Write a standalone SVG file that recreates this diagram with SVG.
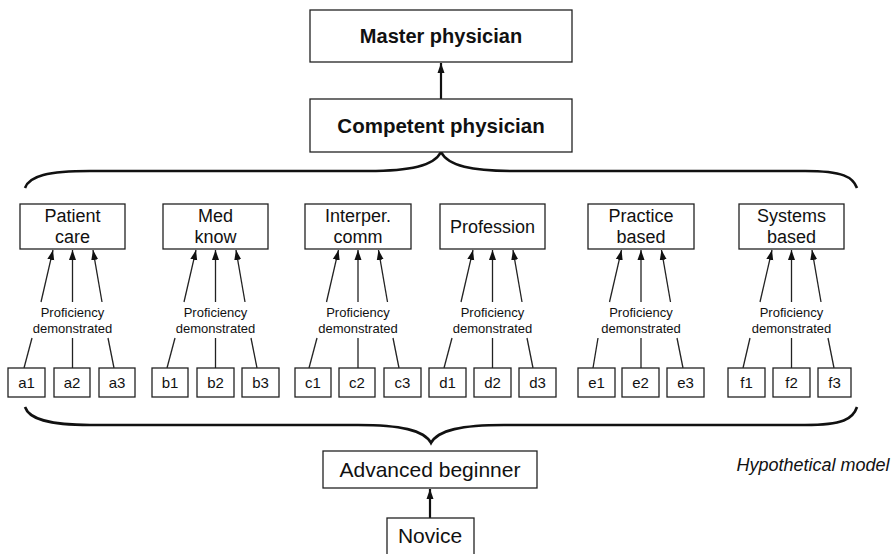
<svg xmlns="http://www.w3.org/2000/svg" width="895" height="554" viewBox="0 0 895 554">
<defs>
<style>
.box{fill:#fff;stroke:#222;stroke-width:1.3}
.t{font-family:"Liberation Sans",Arial,sans-serif;fill:#111;text-anchor:middle}
.big{font-size:20px;font-weight:bold}
.cat{font-size:18px}
.sm{font-size:15px}
.pr{font-size:13px}
.lvl{font-size:21px}
.ln{stroke:#222;stroke-width:1.3;fill:none}
.ar{stroke:#222;stroke-width:1.3;fill:none;marker-end:url(#ah)}
.thick{stroke:#111;stroke-width:2.2;fill:none;marker-end:url(#ahb)}
.brace{stroke:#111;stroke-width:2.6;fill:none}
</style>
<marker id="ah" markerUnits="userSpaceOnUse" markerWidth="10" markerHeight="10" viewBox="0 0 10 10" refX="10" refY="5" orient="auto">
<path d="M0,1.5 L10,5 L0,8.5 Z" fill="#111"/>
</marker>
<marker id="ahb" markerUnits="userSpaceOnUse" markerWidth="10" markerHeight="10" viewBox="0 0 10 10" refX="10" refY="5" orient="auto">
<path d="M0,1.5 L10,5 L0,8.5 Z" fill="#111"/>
</marker>
</defs>
<rect width="895" height="554" fill="#fff"/>

<g id="connectors">
<line class="thick" x1="441" y1="99" x2="441" y2="63"/>
<line class="thick" x1="430" y1="518" x2="430" y2="489"/>
<path class="brace" d="M25,188 C29,176 48,171 90,171 L368,171 C410,171 434,166 441,152 C448,166 472,171 514,171 L805,171 C843,171 853,177 857,188"/>
<path class="brace" d="M25,407 C29,419 48,425 90,425 L358,425 C400,425 424,430 431,443 C438,430 462,425 504,425 L805,425 C843,425 853,419 857,407"/>
<!-- group a cx 72.5 -->
<line class="ar" x1="41" y1="302" x2="53" y2="250"/>
<line class="ar" x1="72.5" y1="302" x2="72.5" y2="250"/>
<line class="ar" x1="102" y1="302" x2="93" y2="250"/>
<line class="ln" x1="32" y1="338" x2="24" y2="368"/>
<line class="ln" x1="72.5" y1="338" x2="72.5" y2="368"/>
<line class="ln" x1="108" y1="338" x2="114" y2="368"/>
<!-- group b cx 215.5 -->
<line class="ar" x1="184" y1="302" x2="196" y2="250"/>
<line class="ar" x1="215.5" y1="302" x2="215.5" y2="250"/>
<line class="ar" x1="245" y1="302" x2="236" y2="250"/>
<line class="ln" x1="175" y1="338" x2="167" y2="368"/>
<line class="ln" x1="215.5" y1="338" x2="215.5" y2="368"/>
<line class="ln" x1="251" y1="338" x2="257" y2="368"/>
<!-- group c cx 358 -->
<line class="ar" x1="326.5" y1="302" x2="338.5" y2="250"/>
<line class="ar" x1="358" y1="302" x2="358" y2="250"/>
<line class="ar" x1="387.5" y1="302" x2="378.5" y2="250"/>
<line class="ln" x1="317" y1="338" x2="309" y2="368"/>
<line class="ln" x1="358" y1="338" x2="358" y2="368"/>
<line class="ln" x1="393" y1="338" x2="399" y2="368"/>
<!-- group d cx 492.5 -->
<line class="ar" x1="461" y1="302" x2="473" y2="250"/>
<line class="ar" x1="492.5" y1="302" x2="492.5" y2="250"/>
<line class="ar" x1="522" y1="302" x2="513" y2="250"/>
<line class="ln" x1="452" y1="338" x2="444" y2="368"/>
<line class="ln" x1="492.5" y1="338" x2="492.5" y2="368"/>
<line class="ln" x1="527" y1="338" x2="533" y2="368"/>
<!-- group e cx 641 -->
<line class="ar" x1="609.5" y1="302" x2="621.5" y2="250"/>
<line class="ar" x1="641" y1="302" x2="641" y2="250"/>
<line class="ar" x1="670.5" y1="302" x2="661.5" y2="250"/>
<line class="ln" x1="598" y1="338" x2="593" y2="368"/>
<line class="ln" x1="641" y1="338" x2="641" y2="368"/>
<line class="ln" x1="677" y1="338" x2="683" y2="368"/>
<!-- group f cx 791.5 -->
<line class="ar" x1="760" y1="302" x2="772" y2="250"/>
<line class="ar" x1="791.5" y1="302" x2="791.5" y2="250"/>
<line class="ar" x1="821" y1="302" x2="812" y2="250"/>
<line class="ln" x1="750" y1="338" x2="743" y2="368"/>
<line class="ln" x1="791.5" y1="338" x2="791.5" y2="368"/>
<line class="ln" x1="828" y1="338" x2="834" y2="368"/>
</g>

<g id="master"><rect class="box" x="310" y="10" width="262" height="52"/><text class="t big" x="441" y="43">Master physician</text></g>
<g id="competent"><rect class="box" x="310" y="99" width="262" height="53"/><text class="t big" x="441" y="133" style="font-size:20.5px">Competent physician</text></g>

<g id="patient"><rect class="box" x="20" y="204" width="105" height="45"/><text class="t cat" x="72.5" y="222">Patient</text><text class="t cat" x="72.5" y="243">care</text></g>
<g id="med"><rect class="box" x="163" y="204" width="105" height="45"/><text class="t cat" x="215.5" y="222">Med</text><text class="t cat" x="215.5" y="243">know</text></g>
<g id="interper"><rect class="box" x="305" y="204" width="106" height="45"/><text class="t cat" x="358" y="222">Interper.</text><text class="t cat" x="358" y="243">comm</text></g>
<g id="profession"><rect class="box" x="440" y="204" width="105" height="45"/><text class="t cat" x="492.5" y="233">Profession</text></g>
<g id="practice"><rect class="box" x="588" y="204" width="106" height="45"/><text class="t cat" x="641" y="222">Practice</text><text class="t cat" x="641" y="243">based</text></g>
<g id="systems"><rect class="box" x="739" y="204" width="105" height="45"/><text class="t cat" x="791.5" y="222">Systems</text><text class="t cat" x="791.5" y="243">based</text></g>

<g id="labels">
<text class="t pr" x="72.5" y="317">Proficiency</text><text class="t pr" x="72.5" y="333">demonstrated</text>
<text class="t pr" x="215.5" y="317">Proficiency</text><text class="t pr" x="215.5" y="333">demonstrated</text>
<text class="t pr" x="358" y="317">Proficiency</text><text class="t pr" x="358" y="333">demonstrated</text>
<text class="t pr" x="492.5" y="317">Proficiency</text><text class="t pr" x="492.5" y="333">demonstrated</text>
<text class="t pr" x="641" y="317">Proficiency</text><text class="t pr" x="641" y="333">demonstrated</text>
<text class="t pr" x="791.5" y="317">Proficiency</text><text class="t pr" x="791.5" y="333">demonstrated</text>
</g>

<g id="a1"><rect class="box" x="8" y="368" width="37" height="29"/><text class="t sm" x="26.5" y="388">a1</text></g>
<g id="a2"><rect class="box" x="54" y="368" width="36" height="29"/><text class="t sm" x="72" y="388">a2</text></g>
<g id="a3"><rect class="box" x="99" y="368" width="36" height="29"/><text class="t sm" x="117" y="388">a3</text></g>
<g id="b1"><rect class="box" x="152" y="368" width="36" height="29"/><text class="t sm" x="170" y="388">b1</text></g>
<g id="b2"><rect class="box" x="197" y="368" width="37" height="29"/><text class="t sm" x="215.5" y="388">b2</text></g>
<g id="b3"><rect class="box" x="242" y="368" width="37" height="29"/><text class="t sm" x="260.5" y="388">b3</text></g>
<g id="c1"><rect class="box" x="295" y="368" width="36" height="29"/><text class="t sm" x="313" y="388">c1</text></g>
<g id="c2"><rect class="box" x="339" y="368" width="36" height="29"/><text class="t sm" x="357" y="388">c2</text></g>
<g id="c3"><rect class="box" x="384" y="368" width="37" height="29"/><text class="t sm" x="402.5" y="388">c3</text></g>
<g id="d1"><rect class="box" x="429" y="368" width="37" height="29"/><text class="t sm" x="447.5" y="388">d1</text></g>
<g id="d2"><rect class="box" x="474" y="368" width="37" height="29"/><text class="t sm" x="492.5" y="388">d2</text></g>
<g id="d3"><rect class="box" x="519" y="368" width="37" height="29"/><text class="t sm" x="537.5" y="388">d3</text></g>
<g id="e1"><rect class="box" x="578" y="368" width="37" height="29"/><text class="t sm" x="596.5" y="388">e1</text></g>
<g id="e2"><rect class="box" x="622" y="368" width="37" height="29"/><text class="t sm" x="640.5" y="388">e2</text></g>
<g id="e3"><rect class="box" x="667" y="368" width="37" height="29"/><text class="t sm" x="685.5" y="388">e3</text></g>
<g id="f1"><rect class="box" x="728" y="368" width="37" height="29"/><text class="t sm" x="746.5" y="388">f1</text></g>
<g id="f2"><rect class="box" x="773" y="368" width="37" height="29"/><text class="t sm" x="791.5" y="388">f2</text></g>
<g id="f3"><rect class="box" x="818" y="368" width="33" height="29"/><text class="t sm" x="834.5" y="388">f3</text></g>

<g id="advanced"><rect class="box" x="323" y="451" width="214" height="37"/><text class="t lvl" x="430" y="477">Advanced beginner</text></g>
<g id="novice"><rect class="box" x="387" y="518" width="87" height="50"/><text class="t lvl" x="430" y="543">Novice</text></g>
<text class="t" x="813" y="471" style="font-size:18px;font-style:italic">Hypothetical model</text>
</svg>
